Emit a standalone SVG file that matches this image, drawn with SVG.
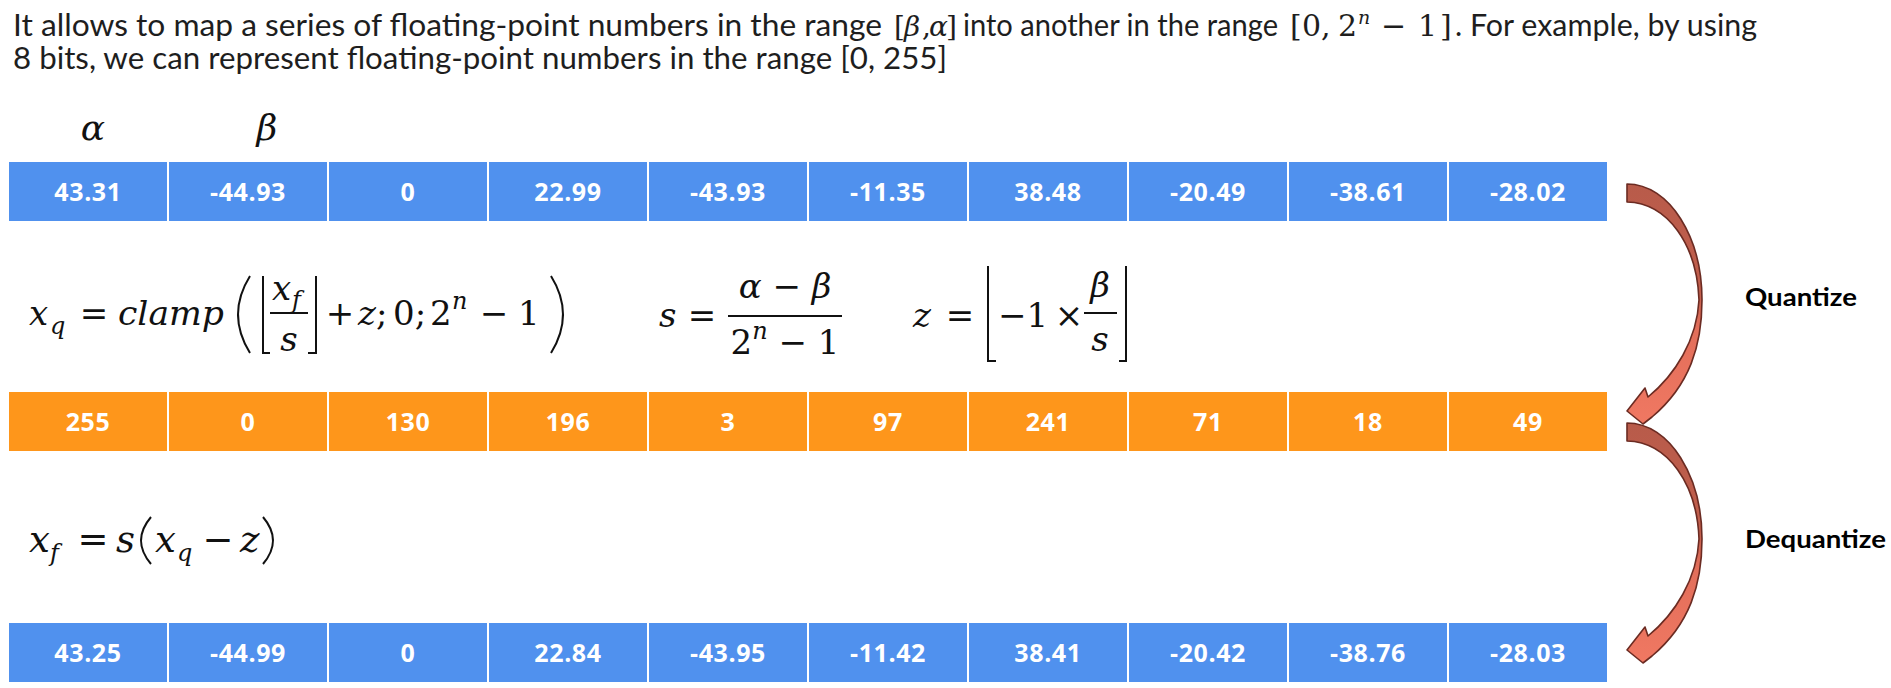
<svg xmlns="http://www.w3.org/2000/svg" width="1891" height="688" viewBox="0 0 1891 688">
<style>
.hdr{font-family:Lato,"Open Sans","Liberation Sans",sans-serif;font-size:30px;fill:#1e1e1e}
.hm{font-family:"DejaVu Serif","Liberation Serif",serif;font-size:28px;fill:#1e1e1e}
.m{font-family:"DejaVu Serif","Liberation Serif",serif;font-size:34px;fill:#111}
.mi{font-style:italic}
.sub{font-size:24px}
.num{font-family:"Open Sans","Liberation Sans",sans-serif;font-weight:700;font-size:25px;letter-spacing:0.6px;fill:#fff;text-anchor:middle}
.blue{fill:#5091EE}
.orange{fill:#FE961B}
.lbl{font-family:Lato,"Open Sans","Liberation Sans",sans-serif;font-weight:700;font-size:25px;fill:#000}
.dl{fill:none;stroke:#111;stroke-width:2}
.arrow{fill:url(#ag);stroke:#6B2B22;stroke-width:1.6;stroke-linejoin:round}
</style>
<defs>
<linearGradient id="ag" x1="0" y1="0" x2="0" y2="1">
<stop offset="0" stop-color="#B85B4A"/>
<stop offset="0.45" stop-color="#C25F4D"/>
<stop offset="0.6" stop-color="#E26E5A"/>
<stop offset="1" stop-color="#F07862"/>
</linearGradient>
<path id="carrow" d="M1627,184 C1670,184 1702,238 1702,300 C1702,345 1690,385 1652,417 L1643,424 L1627,411 L1645,388 L1648,397 C1675,375 1697,340 1699,300 C1697,245 1668,203 1627,202 Z"/>
</defs>
<rect width="1891" height="688" fill="#fff"/>

<g id="intro">
<text class="hdr" x="13" y="36" textLength="869" lengthAdjust="spacingAndGlyphs">It allows to map a series of floating-point numbers in the range</text>
<text class="hm" y="36"><tspan x="894">[</tspan><tspan class="mi" x="904">β</tspan><tspan x="922">,</tspan><tspan class="mi" x="929">α</tspan><tspan x="946">]</tspan></text>
<text class="hdr" x="963" y="36" textLength="315" lengthAdjust="spacingAndGlyphs">into another in the range</text>
<text class="hm" y="36" style="font-size:30px"><tspan x="1290">[</tspan><tspan x="1302">0</tspan><tspan x="1321">,</tspan><tspan x="1338">2</tspan><tspan class="mi" x="1358" y="24" style="font-size:19px">n</tspan><tspan x="1381" y="36">−</tspan><tspan x="1418">1</tspan><tspan x="1440">]</tspan></text>
<text class="hdr" x="1455" y="36" textLength="302" lengthAdjust="spacingAndGlyphs">. For example, by using</text>
<text class="hdr" x="13" y="69" textLength="934" lengthAdjust="spacingAndGlyphs">8 bits, we can represent floating-point numbers in the range [0, 255]</text>
</g>

<g id="range-labels">
<text class="m mi" x="93" y="140" text-anchor="middle" style="font-size:36px">α</text>
<text class="m mi" x="267" y="140" text-anchor="middle" style="font-size:36px">β</text>
</g>

<g id="row-original">
<rect class="blue" x="9" y="162" width="158" height="59"/>
<rect class="blue" x="169" y="162" width="158" height="59"/>
<rect class="blue" x="329" y="162" width="158" height="59"/>
<rect class="blue" x="489" y="162" width="158" height="59"/>
<rect class="blue" x="649" y="162" width="158" height="59"/>
<rect class="blue" x="809" y="162" width="158" height="59"/>
<rect class="blue" x="969" y="162" width="158" height="59"/>
<rect class="blue" x="1129" y="162" width="158" height="59"/>
<rect class="blue" x="1289" y="162" width="158" height="59"/>
<rect class="blue" x="1449" y="162" width="158" height="59"/>
<text class="num" x="88" y="201">43.31</text>
<text class="num" x="248" y="201">-44.93</text>
<text class="num" x="408" y="201">0</text>
<text class="num" x="568" y="201">22.99</text>
<text class="num" x="728" y="201">-43.93</text>
<text class="num" x="888" y="201">-11.35</text>
<text class="num" x="1048" y="201">38.48</text>
<text class="num" x="1208" y="201">-20.49</text>
<text class="num" x="1368" y="201">-38.61</text>
<text class="num" x="1528" y="201">-28.02</text>
</g>

<g id="formula-quantize">
<text class="m mi" x="29" y="325">x</text>
<text class="m mi sub" x="50" y="334">q</text>
<text class="m" x="94" y="325" text-anchor="middle">=</text>
<text class="m mi" x="118" y="325" textLength="106" lengthAdjust="spacingAndGlyphs">clamp</text>
<path class="dl" d="M250,276 Q226,314.5 250,353"/>
<path class="dl" d="M263,276 V353 H270"/>
<text class="m mi" x="272" y="300">x</text>
<text class="m mi sub" x="292" y="308">f</text>
<line x1="270" y1="313" x2="308" y2="313" stroke="#111" stroke-width="2"/>
<text class="m mi" x="289" y="351" text-anchor="middle">s</text>
<path class="dl" d="M316,276 V353 H308"/>
<text class="m" x="340" y="325" text-anchor="middle">+</text>
<text class="m" x="358" y="325"><tspan class="mi">z</tspan>;</text>
<text class="m" x="393" y="325">0;</text>
<text class="m" x="430" y="325">2</text>
<text class="m mi sub" x="452" y="309">n</text>
<text class="m" x="494" y="325" text-anchor="middle">−</text>
<text class="m" x="518" y="325">1</text>
<path class="dl" d="M551,276 Q575,314.5 551,353"/>

<text class="m mi" x="659" y="327">s</text>
<text class="m" x="702" y="327" text-anchor="middle">=</text>
<text class="m" x="785" y="298" text-anchor="middle"><tspan class="mi">α</tspan> − <tspan class="mi">β</tspan></text>
<line x1="728" y1="316" x2="842" y2="316" stroke="#111" stroke-width="2"/>
<text class="m" x="785" y="354" text-anchor="middle">2<tspan class="mi" dy="-15" style="font-size:24px">n</tspan><tspan dy="15"> − 1</tspan></text>

<text class="m mi" x="913" y="327">z</text>
<text class="m" x="960" y="327" text-anchor="middle">=</text>
<path class="dl" d="M988,266 V361 H996"/>
<text class="m" x="998" y="327">−1</text>
<text class="m" x="1069" y="327" text-anchor="middle">×</text>
<text class="m mi" x="1100" y="297" text-anchor="middle">β</text>
<line x1="1084" y1="313" x2="1117" y2="313" stroke="#111" stroke-width="2"/>
<text class="m mi" x="1100" y="351" text-anchor="middle">s</text>
<path class="dl" d="M1126,266 V361 H1119"/>
</g>

<g id="row-quantized">
<rect class="orange" x="9" y="392" width="158" height="59"/>
<rect class="orange" x="169" y="392" width="158" height="59"/>
<rect class="orange" x="329" y="392" width="158" height="59"/>
<rect class="orange" x="489" y="392" width="158" height="59"/>
<rect class="orange" x="649" y="392" width="158" height="59"/>
<rect class="orange" x="809" y="392" width="158" height="59"/>
<rect class="orange" x="969" y="392" width="158" height="59"/>
<rect class="orange" x="1129" y="392" width="158" height="59"/>
<rect class="orange" x="1289" y="392" width="158" height="59"/>
<rect class="orange" x="1449" y="392" width="158" height="59"/>
<text class="num" x="88" y="431">255</text>
<text class="num" x="248" y="431">0</text>
<text class="num" x="408" y="431">130</text>
<text class="num" x="568" y="431">196</text>
<text class="num" x="728" y="431">3</text>
<text class="num" x="888" y="431">97</text>
<text class="num" x="1048" y="431">241</text>
<text class="num" x="1208" y="431">71</text>
<text class="num" x="1368" y="431">18</text>
<text class="num" x="1528" y="431">49</text>
</g>

<g id="formula-dequantize">
<text class="m mi" x="29" y="552" style="font-size:37px">x</text>
<text class="m mi sub" x="50" y="561">f</text>
<text class="m" x="93" y="552" text-anchor="middle" style="font-size:37px">=</text>
<text class="m mi" x="116" y="552" style="font-size:37px">s</text>
<path class="dl" d="M151,517 Q131,540.5 151,564"/>
<text class="m mi" x="155" y="552" style="font-size:37px">x</text>
<text class="m mi sub" x="177" y="561">q</text>
<text class="m" x="218" y="552" text-anchor="middle" style="font-size:37px">−</text>
<text class="m mi" x="240" y="552" style="font-size:37px">z</text>
<path class="dl" d="M263,517 Q283,540.5 263,564"/>
</g>

<g id="row-dequantized">
<rect class="blue" x="9" y="623" width="158" height="59"/>
<rect class="blue" x="169" y="623" width="158" height="59"/>
<rect class="blue" x="329" y="623" width="158" height="59"/>
<rect class="blue" x="489" y="623" width="158" height="59"/>
<rect class="blue" x="649" y="623" width="158" height="59"/>
<rect class="blue" x="809" y="623" width="158" height="59"/>
<rect class="blue" x="969" y="623" width="158" height="59"/>
<rect class="blue" x="1129" y="623" width="158" height="59"/>
<rect class="blue" x="1289" y="623" width="158" height="59"/>
<rect class="blue" x="1449" y="623" width="158" height="59"/>
<text class="num" x="88" y="662">43.25</text>
<text class="num" x="248" y="662">-44.99</text>
<text class="num" x="408" y="662">0</text>
<text class="num" x="568" y="662">22.84</text>
<text class="num" x="728" y="662">-43.95</text>
<text class="num" x="888" y="662">-11.42</text>
<text class="num" x="1048" y="662">38.41</text>
<text class="num" x="1208" y="662">-20.42</text>
<text class="num" x="1368" y="662">-38.76</text>
<text class="num" x="1528" y="662">-28.03</text>
</g>

<g id="connectors">
<use href="#carrow" class="arrow"/>
<use href="#carrow" class="arrow" transform="translate(0,239)"/>
</g>

<g id="step-labels">
<text class="lbl" x="1745" y="306" textLength="112" lengthAdjust="spacingAndGlyphs">Quantize</text>
<text class="lbl" x="1745" y="548" textLength="141" lengthAdjust="spacingAndGlyphs">Dequantize</text>
</g>
</svg>
